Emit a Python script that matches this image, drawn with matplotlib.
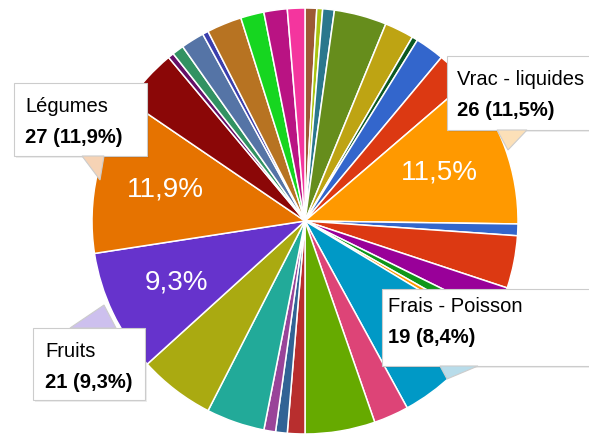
import matplotlib.pyplot as plt
from matplotlib.patches import Rectangle, Polygon

plt.rcParams['font.family'] = ['Liberation Sans', 'DejaVu Sans']

# slices clockwise from 12 o'clock
values = [2, 1, 2, 9, 5, 1, 5, 6, 26, 2, 9, 5, 2, 1, 19, 6, 12, 3, 2, 2,
          10, 13, 21, 27, 10, 1, 2, 4, 1, 6, 4, 4, 3]
colors = ['#9c5935', '#a9c413', '#2a778d', '#668d1c', '#bea413', '#0c5922',
          '#3366cc', '#dc3912', '#ff9900', '#3366cc', '#dc3912', '#990099',
          '#109618', '#ff9900', '#0099c6', '#dd4477', '#66aa00', '#b82e2e',
          '#316395', '#994499', '#22aa99', '#aaaa11', '#6633cc', '#e67300',
          '#8b0707', '#651067', '#329262', '#5574a6', '#3b3eac', '#b77322',
          '#16d620', '#b91383', '#f4359e']
names = {8: 'Vrac - liquides', 14: 'Frais - Poisson', 22: 'Fruits', 23: 'Légumes'}

total = sum(values)


def pct_txt(p):
    return f"{p:.1f}%".replace('.', ',')


fig = plt.figure(figsize=(5.89, 4.37), dpi=100)
ax = fig.add_axes([0, 0, 1, 1])

ax.pie(values, colors=colors, startangle=-90, counterclock=True,
       center=(305, 221), radius=213,
       wedgeprops=dict(edgecolor='white', linewidth=1.1),
       autopct=lambda p: pct_txt(p) if p > 9 else '', pctdistance=0.67,
       textprops=dict(color='white', fontsize=20))
ax.set_xlim(0, 589)
ax.set_ylim(437, 0)
ax.axis('off')


def tooltip(idx, box, ptr, ptr_color, tx, ty):
    x0, y0, x1, y1 = box
    ax.add_patch(Rectangle((x0 + 2, y0 + 2), x1 - x0, y1 - y0, fc='black',
                           alpha=0.07, ec='none', zorder=5))
    ax.add_patch(Rectangle((x0, y0), x1 - x0, y1 - y0, fc='white',
                           ec='#cccccc', lw=0.8, zorder=6))
    ax.add_patch(Polygon(ptr, closed=True, fc=ptr_color, ec='#cccccc',
                         lw=0.8, zorder=6))
    pct = pct_txt(100 * values[idx] / total)
    ax.text(tx, ty, names[idx], fontsize=14.5, va='baseline', zorder=7)
    ax.text(tx, ty + 31, f"{values[idx]} ({pct})", fontsize=14.5,
            weight='bold', va='baseline', zorder=7)


tooltip(23, (14, 83, 147, 156), [(82, 156), (104, 156), (100, 180)],
        '#f6d3b5', 25, 112)
tooltip(8, (447, 56, 600, 130), [(497, 130), (527, 130), (508, 150)],
        '#fce0b8', 457, 85)
tooltip(14, (382, 289, 600, 366), [(440, 366), (478, 366), (447, 379)],
        '#b8dcea', 388, 312)
tooltip(22, (33, 328, 145, 400), [(70, 328), (116, 328), (104, 305)],
        '#cdc0ee', 45, 357)

fig.savefig('out.png', dpi=100)
